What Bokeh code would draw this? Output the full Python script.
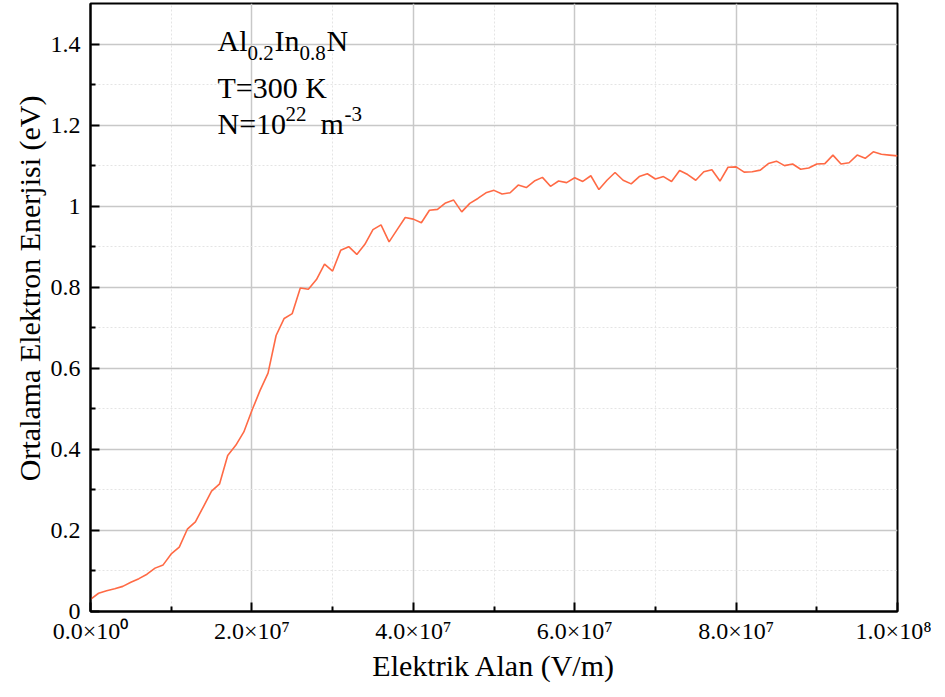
from bokeh.plotting import figure
from bokeh.models import FixedTicker, Label, CustomJSTickFormatter, Title
from bokeh.embed import file_html
from bokeh.resources import INLINE

# Electric field (MV/m) sampling points
field_mv = [0, 1, 2, 3, 4, 5, 6, 7, 8, 9,
            10, 11, 12, 13, 14, 15, 16, 17, 18, 19,
            20, 21, 22, 23, 24, 25, 26, 27, 28, 29,
            30, 31, 32, 33, 34, 35, 36, 37, 38, 39,
            40, 41, 42, 43, 44, 45, 46, 47, 48, 49,
            50, 51, 52, 53, 54, 55, 56, 57, 58, 59,
            60, 61, 62, 63, 64, 65, 66, 67, 68, 69,
            70, 71, 72, 73, 74, 75, 76, 77, 78, 79,
            80, 81, 82, 83, 84, 85, 86, 87, 88, 89,
            90, 91, 92, 93, 94, 95, 96, 97, 98, 99, 100]

# Mean electron energy (eV)
energy = [0.030, 0.045, 0.051, 0.056, 0.062, 0.072, 0.081, 0.092, 0.107, 0.115,
          0.142, 0.159, 0.203, 0.221, 0.259, 0.297, 0.315, 0.385, 0.410, 0.443,
          0.496, 0.545, 0.588, 0.681, 0.723, 0.735, 0.798, 0.795, 0.819, 0.857,
          0.840, 0.891, 0.900, 0.881, 0.906, 0.942, 0.954, 0.912, 0.942, 0.972,
          0.968, 0.959, 0.990, 0.992, 1.008, 1.015, 0.986, 1.007, 1.019, 1.033,
          1.039, 1.030, 1.033, 1.052, 1.046, 1.062, 1.071, 1.049, 1.062, 1.058,
          1.070, 1.061, 1.075, 1.041, 1.064, 1.083, 1.064, 1.055, 1.073, 1.080,
          1.067, 1.073, 1.061, 1.088, 1.078, 1.064, 1.085, 1.090, 1.062, 1.096,
          1.097, 1.084, 1.085, 1.089, 1.105, 1.111, 1.100, 1.104, 1.091, 1.094,
          1.104, 1.105, 1.126, 1.104, 1.107, 1.126, 1.118, 1.134, 1.128, 1.126, 1.124]

x_ticks = [0, 2e7, 4e7, 6e7, 8e7, 1e8]
x_minor = [1e7, 3e7, 5e7, 7e7, 9e7]
x_tick_labels = ["0.0×10⁰", "2.0×10⁷", "4.0×10⁷", "6.0×10⁷", "8.0×10⁷", "1.0×10⁸"]
y_ticks = [0, 0.2, 0.4, 0.6, 0.8, 1.0, 1.2, 1.4]
y_minor = [0.1, 0.3, 0.5, 0.7, 0.9, 1.1, 1.3]
y_tick_labels = ["0", "0.2", "0.4", "0.6", "0.8", "1", "1.2", "1.4"]

FONT = "Liberation Serif"

field = [v * 1e6 for v in field_mv]

p = figure(frame_width=807, frame_height=608,
           min_border_left=90, min_border_right=34, min_border_top=3, min_border_bottom=78,
           x_range=(0, 1e8), y_range=(0, 1.5),
           output_backend="svg", toolbar_location=None)
p.background_fill_color = "white"
p.border_fill_color = "white"
p.outline_line_color = "black"
p.outline_line_width = 2

for g in (p.xgrid, p.ygrid):
    g.grid_line_color = "#c8c8c8"
    g.grid_line_width = 1.5
    g.minor_grid_line_color = "#e4e4e4"
    g.minor_grid_line_width = 1
    g.minor_grid_line_dash = "2 2"

p.line(field, energy, line_color="#ff6a45", line_width=1.6)

p.xaxis.ticker = FixedTicker(ticks=x_ticks, minor_ticks=x_minor)
p.yaxis.ticker = FixedTicker(ticks=y_ticks, minor_ticks=y_minor)
fmt_code = """
let best = 0, bd = Infinity;
for (let i = 0; i < ticks_.length; i++) {
    const d = Math.abs(ticks_[i] - tick);
    if (d < bd) { bd = d; best = i; }
}
return labels_[best];
"""
p.xaxis.formatter = CustomJSTickFormatter(args=dict(ticks_=x_ticks, labels_=x_tick_labels), code=fmt_code)
p.yaxis.formatter = CustomJSTickFormatter(args=dict(ticks_=y_ticks, labels_=y_tick_labels), code=fmt_code)

for ax in p.axis:
    ax.axis_line_color = "black"
    ax.axis_line_width = 2
    ax.major_tick_in = 9
    ax.major_tick_out = 0
    ax.minor_tick_in = 5
    ax.minor_tick_out = 0
    ax.major_tick_line_width = 2
    ax.minor_tick_line_width = 2
    ax.major_tick_line_color = "black"
    ax.minor_tick_line_color = "black"
    ax.major_label_text_font = FONT
    ax.major_label_text_font_size = "24px"
    ax.major_label_text_font_style = "normal"
    ax.major_label_text_color = "black"
    ax.axis_label_text_font = FONT
    ax.axis_label_text_font_size = "30px"
    ax.axis_label_text_font_style = "normal"
    ax.axis_label_text_color = "black"

p.xaxis.axis_label = "Elektrik Alan (V/m)"
p.xaxis.major_label_standoff = 6
p.xaxis.axis_label_standoff = 2
p.yaxis.major_label_standoff = 10

ytitle = Title(text="Ortalama Elektron Enerjisi (eV)", align="right", offset=92,
               text_font=FONT, text_font_size="30px", text_font_style="normal",
               text_color="black", standoff=4)
p.add_layout(ytitle, "left")

# annotation block (baselines in data units, piece offsets in pixels)
ax0 = 1.574e7
base_style = dict(text_font=FONT, text_color="black", text_baseline="alphabetic")
pieces = [
    ("Al", 1.408, 0, 0, "30px"),
    ("0.2", 1.408, 30, -12, "21px"),
    ("In", 1.408, 57, 0, "30px"),
    ("0.8", 1.408, 82, -12, "21px"),
    ("N", 1.408, 109, 0, "30px"),
    ("T=300 K", 1.292, 0, 0, "30px"),
    ("N=10", 1.205, 0, 0, "30px"),
    ("22", 1.205, 68, 9, "21px"),
    ("m", 1.205, 103, 0, "30px"),
    ("-3", 1.205, 127, 9, "21px"),
]
for txt, yy, xo, yo, fs in pieces:
    p.add_layout(Label(x=ax0, y=yy, x_offset=xo, y_offset=yo, text=txt,
                       text_font_size=fs, **base_style))

open("out.html", "w").write(file_html(p, INLINE))
